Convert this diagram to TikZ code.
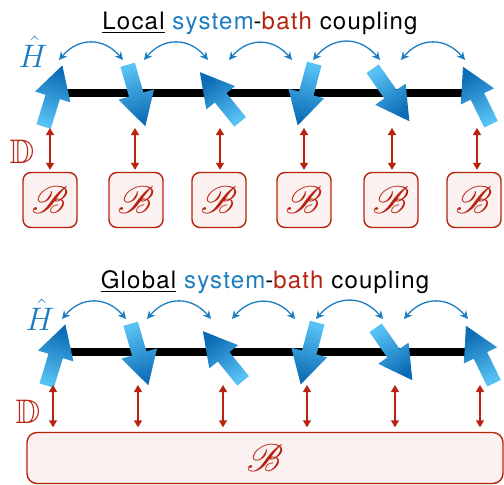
\RequirePackage{fix-cm}
\documentclass[tikz,border=0pt]{standalone}
\usepackage{amssymb}
\usepackage{mathrsfs}
\usepackage{fontspec}
\newfontfamily\titlefont[LetterSpace=5]{TeX Gyre Heros}
\usetikzlibrary{arrows.meta,calc}

\definecolor{spinblue}{HTML}{1B7CC2}
\definecolor{spinlight}{HTML}{58C2F5}
\definecolor{spindark}{HTML}{0B6BB4}
\definecolor{bathred}{HTML}{B8220F}
\definecolor{bathfill}{HTML}{FBF1F1}

\newcommand\bathsym{\scalebox{1.55}{$\mathscr{B}$}}
\newcommand\hamsym{\scalebox{1.3}{$\hat{H}$}}

\tikzset{
  hop/.style={spinblue, line width=1.3pt, {Stealth[length=8pt,width=8pt]}-{Stealth[length=8pt,width=8pt]}},
  couple/.style={bathred, line width=1.4pt, {Triangle[length=7pt,width=8pt]}-{Triangle[length=7pt,width=8pt]}},
  bathbox/.style={draw=bathred, fill=bathfill, line width=1.4pt, rounded corners=8pt, inner sep=0pt,
    minimum width=54pt, minimum height=55pt, text=bathred, font=\fontsize{25}{25}\selectfont},
  chain/.style={line width=8pt},
  title/.style={font=\titlefont\fontsize{24}{28}\selectfont, inner sep=0pt, anchor=base},
  ham/.style={text=spinblue, font=\fontsize{25}{25}\selectfont, inner sep=0pt, anchor=base},
  diss/.style={text=bathred, font=\fontsize{34}{34}\selectfont, inner sep=0pt, anchor=base},
}

% thick shaded spin arrow: centre x, centre y, direction
\newcommand\spinarrow[3]{%
  \pgfmathsetmacro\shadeang{#3+90}
  \shade[top color=spinlight, bottom color=spindark, shading angle=\shadeang]
    ($(#1,#2)+(#3:-32pt)+(#3+90:7.5pt)$) -- ($(#1,#2)+(#3:-1pt)+(#3+90:7.5pt)$)
    -- ($(#1,#2)+(#3:-1pt)+(#3+90:18.5pt)$) -- ($(#1,#2)+(#3:32pt)$)
    -- ($(#1,#2)+(#3:-1pt)+(#3-90:18.5pt)$) -- ($(#1,#2)+(#3:-1pt)+(#3-90:7.5pt)$)
    -- ($(#1,#2)+(#3:-32pt)+(#3-90:7.5pt)$) -- cycle;
}

\begin{document}
\begin{tikzpicture}[x=1pt,y=-1pt]
\useasboundingbox (0,0) rectangle (504,485);

% local coupling
\node[title] (ltitle) at (260,29) {\underline{Local} \textcolor{spinblue}{system}-\textcolor{bathred}{bath} coupling};
\node[ham] (lham) at (33,67) {\hamsym};
\node[diss] (ldiss) at (22,163) {$\mathbb{D}$};
\draw[chain] (64,93) -- (463,93);
\foreach \x/\y/\a in {53/96/73, 136.5/95.5/-74, 220/97/129, 306/94.5/255, 391/95/-55, 477/95.5/116}
  \spinarrow{\x}{\y}{\a};
\foreach \x [count=\i] in {50,135,220,304,392,477} {
  \coordinate (lja\i) at (\x+9,60);
  \coordinate (ljb\i) at (\x-12,60);
  \coordinate (lsite\i) at (\x,128);
}
\foreach \i/\j in {1/2,2/3,3/4,4/5,5/6}
  \draw[hop] (lja\i) to[bend left=50, looseness=1.2] (ljb\j);
\foreach \x [count=\i] in {50,136,219,304,391,474} {
  \node[bathbox] (lbath\i) at (\x,200) {\bathsym};
  \draw[couple, shorten >=2pt] (lsite\i) -- (lsite\i |- lbath\i.north);
}

% global coupling
\node[title] (gtitle) at (265,288) {\underline{Global} \textcolor{spinblue}{system}-\textcolor{bathred}{bath} coupling};
\node[ham] (gham) at (40,330) {\hamsym};
\node[diss] (gdiss) at (28,423) {$\mathbb{D}$};
\node[bathbox, minimum width=476pt, minimum height=51pt, rounded corners=10pt] (gbath) at (265,458) {\bathsym};
\begin{scope}[shift={(3,259)}]
\draw[chain] (64,93) -- (463,93);
\foreach \x/\y/\a in {53/96/73, 136.5/95.5/-74, 220/97/129, 306/94.5/255, 391/95/-55, 477/95.5/116}
  \spinarrow{\x}{\y}{\a};
\foreach \x [count=\i] in {50,135,220,304,392,477} {
  \coordinate (gja\i) at (\x+9,60);
  \coordinate (gjb\i) at (\x-12,60);
  \coordinate (gsite\i) at (\x,126);
}
\foreach \i/\j in {1/2,2/3,3/4,4/5,5/6}
  \draw[hop] (gja\i) to[bend left=50, looseness=1.2] (gjb\j);
\foreach \i in {1,...,6}
  \draw[couple, shorten >=4.5pt] (gsite\i) -- (gsite\i |- gbath.north);
\end{scope}
\end{tikzpicture}
\end{document}
